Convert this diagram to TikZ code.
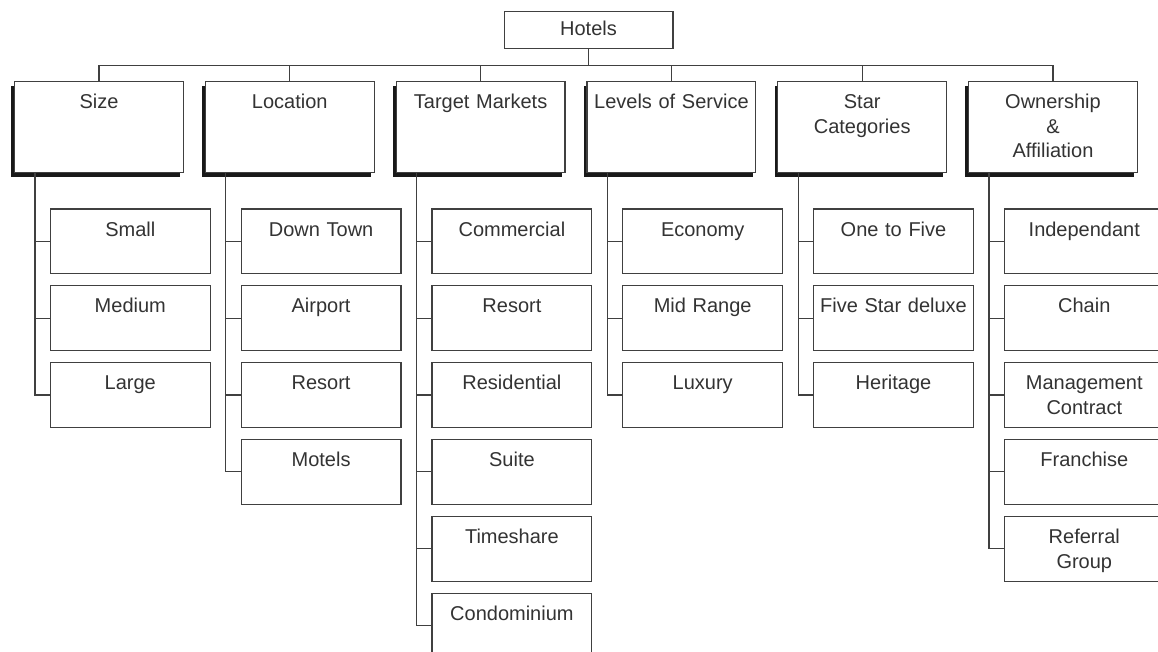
\documentclass[tikz,border=0pt]{standalone}
\usepackage{fontspec}
\setmainfont{Liberation Sans}
\usepackage{tikz}
\usetikzlibrary{positioning,calc,shadows}

\begin{document}
\begin{tikzpicture}[
  font=\fontsize{10}{12.4}\selectfont,
  line width=0.6pt,
  topbox/.style={draw=black!75,fill=white,text=black!80,inner sep=0pt,text width=84.4pt,
    align=center,text height=12.2pt,text depth=6.5pt},
  catbox/.style={draw=black!75,fill=white,text=black!80,inner sep=0pt,text width=84.4pt,
    align=center,text height=13.5pt,text depth=32.2pt,
    drop shadow={shadow xshift=-1.6pt,shadow yshift=-2.2pt,fill=black!90,opacity=1}},
  subbox/.style={draw=black!75,fill=white,text=black!80,inner sep=0pt,text width=79.9pt,
    align=center,text height=13.5pt,text depth=18.9pt},
  link/.style={draw=black!75},
]
\clip (0,0) rectangle (579pt,-326pt);
\node[topbox] (hotels) at (294.25pt,-15pt) {Hotels};
\node[catbox,anchor=north west] (size) at (7pt,-40.35pt) {Size};
\node[catbox,right=10.4pt of size] (loc) {Location};
\node[catbox,right=10.4pt of loc] (mkt) {Target Markets};
\node[catbox,right=10.4pt of mkt] (svc) {Levels of Service};
\node[catbox,right=10.4pt of svc] (star) {Star\\Categories};
\node[catbox,right=10.4pt of star] (own) {Ownership\\\&\\Affiliation};
\node[subbox,anchor=north west] (small) at ($(size.south west)+(17.9pt,-17.6pt)$) {Small};
\node[subbox,below=5.4pt of small] (medium) {Medium};
\node[subbox,below=5.4pt of medium] (large) {Large};
\node[subbox,anchor=north west] (down) at ($(loc.south west)+(17.9pt,-17.6pt)$) {Down Town};
\node[subbox,below=5.4pt of down] (air) {Airport};
\node[subbox,below=5.4pt of air] (resL) {Resort};
\node[subbox,below=5.4pt of resL] (motel) {Motels};
\node[subbox,anchor=north west] (comm) at ($(mkt.south west)+(17.9pt,-17.6pt)$) {Commercial};
\node[subbox,below=5.4pt of comm] (resM) {Resort};
\node[subbox,below=5.4pt of resM] (resi) {Residential};
\node[subbox,below=5.4pt of resi] (suite) {Suite};
\node[subbox,below=5.4pt of suite] (time) {Timeshare};
\node[subbox,below=5.4pt of time] (condo) {Condominium};
\node[subbox,anchor=north west] (eco) at ($(svc.south west)+(17.9pt,-17.6pt)$) {Economy};
\node[subbox,below=5.4pt of eco] (mid) {Mid Range};
\node[subbox,below=5.4pt of mid] (lux) {Luxury};
\node[subbox,anchor=north west] (one) at ($(star.south west)+(17.9pt,-17.6pt)$) {One to Five};
\node[subbox,below=5.4pt of one] (five) {Five Star deluxe};
\node[subbox,below=5.4pt of five] (herit) {Heritage};
\node[subbox,anchor=north west] (indep) at ($(own.south west)+(17.9pt,-17.6pt)$) {Independant};
\node[subbox,below=5.4pt of indep] (chain) {Chain};
\node[subbox,below=5.4pt of chain] (mgmt) {Management\\Contract};
\node[subbox,below=5.4pt of mgmt] (fran) {Franchise};
\node[subbox,below=5.4pt of fran] (refg) {Referral\\Group};
\coordinate (bus) at ($(hotels.south)+(0,-8pt)$);
\draw[link] (hotels.south)--(bus);
\draw[link] (size.north) |- (bus) -| (own.north);
\draw[link] (loc.north)--(loc.north |- bus);
\draw[link] (mkt.north)--(mkt.north |- bus);
\draw[link] (svc.north)--(svc.north |- bus);
\draw[link] (star.north)--(star.north |- bus);
\coordinate (sizeT) at ($(size.south west)+(10.5pt,0)$);
\draw[link] (sizeT) |- (large.west);
\draw[link] (small.west)--(small.west -| sizeT);
\draw[link] (medium.west)--(medium.west -| sizeT);
\coordinate (locT) at ($(loc.south west)+(10.5pt,0)$);
\draw[link] (locT) |- (motel.west);
\draw[link] (down.west)--(down.west -| locT);
\draw[link] (air.west)--(air.west -| locT);
\draw[link] (resL.west)--(resL.west -| locT);
\coordinate (mktT) at ($(mkt.south west)+(10.5pt,0)$);
\draw[link] (mktT) |- (condo.west);
\draw[link] (comm.west)--(comm.west -| mktT);
\draw[link] (resM.west)--(resM.west -| mktT);
\draw[link] (resi.west)--(resi.west -| mktT);
\draw[link] (suite.west)--(suite.west -| mktT);
\draw[link] (time.west)--(time.west -| mktT);
\coordinate (svcT) at ($(svc.south west)+(10.5pt,0)$);
\draw[link] (svcT) |- (lux.west);
\draw[link] (eco.west)--(eco.west -| svcT);
\draw[link] (mid.west)--(mid.west -| svcT);
\coordinate (starT) at ($(star.south west)+(10.5pt,0)$);
\draw[link] (starT) |- (herit.west);
\draw[link] (one.west)--(one.west -| starT);
\draw[link] (five.west)--(five.west -| starT);
\coordinate (ownT) at ($(own.south west)+(10.5pt,0)$);
\draw[link] (ownT) |- (refg.west);
\draw[link] (indep.west)--(indep.west -| ownT);
\draw[link] (chain.west)--(chain.west -| ownT);
\draw[link] (mgmt.west)--(mgmt.west -| ownT);
\draw[link] (fran.west)--(fran.west -| ownT);
\end{tikzpicture}
\end{document}
